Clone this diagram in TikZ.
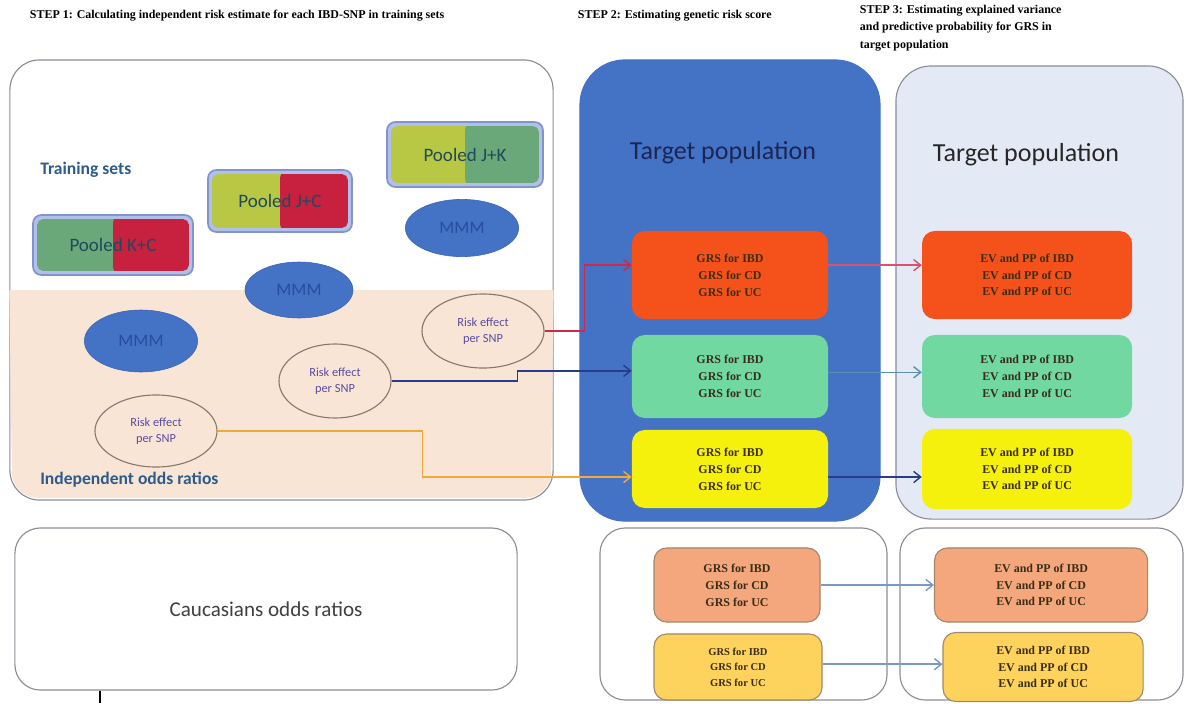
\documentclass[tikz,border=0pt]{standalone}
\usepackage{fontspec}
\setmainfont{Carlito}
\newfontfamily\titlefont{Liberation Serif}
\usetikzlibrary{shapes.geometric, positioning, arrows.meta}

\definecolor{panelgray}{HTML}{8C8C96}
\definecolor{peach}{HTML}{F8E5D6}
\definecolor{popblue}{HTML}{4472C4}
\definecolor{popgray}{HTML}{E4EAF5}
\definecolor{grsorange}{HTML}{F4521A}
\definecolor{grsgreen}{HTML}{70D8A0}
\definecolor{grsyellow}{HTML}{F5F00C}
\definecolor{grssalmon}{HTML}{F4A67C}
\definecolor{grsgold}{HTML}{FDD35E}
\definecolor{crimson}{HTML}{C8203F}
\definecolor{olive}{HTML}{B8C844}
\definecolor{sage}{HTML}{6AA87A}
\definecolor{poolfill}{HTML}{B0C0E8}
\definecolor{poolline}{HTML}{8294CC}
\definecolor{mmmline}{HTML}{3A64B4}
\definecolor{mmmtext}{HTML}{2A4C9E}
\definecolor{ringline}{HTML}{8A7868}
\definecolor{risktext}{HTML}{5A4CA0}
\definecolor{tealtext}{HTML}{1E4A5C}
\definecolor{headblue}{HTML}{2E5C8A}
\definecolor{popnavy}{HTML}{1A2656}
\definecolor{boxtext}{HTML}{3A2E18}
\definecolor{redline}{HTML}{D0284A}
\definecolor{navyline}{HTML}{283C8C}
\definecolor{amberline}{HTML}{F2A83C}
\definecolor{tealline}{HTML}{5A8FB0}
\definecolor{softline}{HTML}{7A98C8}
\definecolor{lowline}{HTML}{A08868}

\begin{document}
\begin{tikzpicture}[
    x=0.025cm, y=-0.025cm,
    >={Straight Barb[length=5pt, width=8pt]},
    steptitle/.style={font=\titlefont\bfseries\fontsize{8.5}{12.5}\selectfont, anchor=west, align=left},
    panel/.style={draw=panelgray, line width=0.8pt, fill=white},
    pooled/.style 2 args={rounded corners=6pt, fill=poolfill, draw=poolline, line width=1.2pt,
        text=tealtext, font=\fontsize{13.5}{15}\selectfont,
        path picture={
          \fill[#1, rounded corners=4pt] ([shift={(3pt,3pt)}]path picture bounding box.south west)
             rectangle ([shift={(-3pt,-3pt)}]path picture bounding box.north east);
          \begin{scope}
            \clip (path picture bounding box.south) rectangle (path picture bounding box.north east);
            \fill[#2, rounded corners=4pt] ([shift={(3pt,3pt)}]path picture bounding box.south west)
               rectangle ([shift={(-3pt,-3pt)}]path picture bounding box.north east);
          \end{scope}}},
    mmm/.style={ellipse, fill=popblue, draw=mmmline, inner sep=0pt, text=mmmtext,
        font=\fontsize{12.5}{14}\selectfont},
    risk/.style={ellipse, fill=peach, draw=ringline, line width=0.8pt, inner sep=0pt, text=risktext,
        align=center, font=\fontsize{8.8}{11.5}\selectfont, minimum width=3.05cm, minimum height=1.85cm},
    grsbox/.style={rounded corners=9pt, fill=#1, align=center, text=boxtext,
        font=\titlefont\bfseries\fontsize{8.5}{12}\selectfont},
    lowbox/.style={grsbox=#1, draw=lowline, line width=0.8pt},
    heading/.style={anchor=west, inner sep=0pt, font=\bfseries\fontsize{12.5}{14}\selectfont, text=headblue},
    poptext/.style={font=\fontsize{18.5}{21}\selectfont},
    node distance=7.425cm, on grid
]

   % Step titles
   \node[steptitle] (title1) at (25,16) {STEP 1: Calculating independent risk estimate for each IBD-SNP in training sets};
   \node[steptitle] (title2) at (573,16) {STEP 2: Estimating genetic risk score};
   \node[steptitle] (title3) at (855,28) {STEP 3: Estimating explained variance\\and predictive probability for GRS in\\target population};

   % Panels
   \node[panel, rounded corners=21pt, minimum width=13.575cm, minimum height=11cm] (train) at (281.5,280) {};
   \fill[peach, rounded corners=18pt] (train.west |- 0,290) -- ([shift={(2pt,2pt)}]train.south west)
        -- ([shift={(-2pt,2pt)}]train.south east) [sharp corners] -- (train.east |- 0,290) -- cycle;
   \node[panel, fill=popblue, draw=popblue, rounded corners=32pt, minimum width=7.5cm, minimum height=11.525cm] (target2) at (730,290.5) {};
   \node[panel, fill=popgray, rounded corners=25pt, minimum width=7.175cm, minimum height=11.325cm] (target3) at (1039.5,292.5) {};
   \node[panel, rounded corners=18pt, minimum width=12.55cm, minimum height=4.05cm, font=\fontsize{15}{17}\selectfont, text=black!75] (cauc) at (266,609) {Caucasians odds ratios};
   \node[panel, rounded corners=18pt, minimum width=7.175cm, minimum height=4.3cm] (low2) at (743.5,614) {};
   \node[panel, rounded corners=18pt, minimum width=7.075cm, minimum height=4.3cm] (low3) at (1041.5,614) {};

   \coordinate (tick) at (100,703);
   \draw[black, line width=1pt] (cauc.south -| tick) -- (tick);

   % Panel texts
   \node[heading] (trainsets) at (40,170) {Training sets};
   \node[heading] (indep) at (40,480) {Independent odds ratios};
   \node[poptext, text=popnavy] (pop2) at (723,153) {Target population};
   \node[poptext, text=black!85] (pop3) at (1026,155) {Target population};

   % Training sets
   \node[pooled={sage}{crimson}, minimum width=4cm, minimum height=1.5cm] (pkc) at (113,245) {Pooled K+C};
   \node[pooled={olive}{crimson}, minimum width=3.6cm, minimum height=1.55cm] (pjc) at (280,201) {Pooled J+C};
   \node[pooled={olive}{sage}, minimum width=3.9cm, minimum height=1.625cm] (pjk) at (465,154.5) {Pooled J+K};

   \node[mmm, minimum width=2.83cm, minimum height=1.43cm] (mmm1) at (462,228) {MMM};
   \node[mmm, minimum width=2.7cm, minimum height=1.4cm] (mmm2) at (299,290) {MMM};
   \node[mmm, minimum width=2.83cm, minimum height=1.55cm] (mmm3) at (141,341) {MMM};

   \node[risk] (re1) at (483,331) {Risk effect\\per SNP};
   \node[risk, minimum width=2.8cm] (re2) at (335,381) {Risk effect\\per SNP};
   \node[risk, minimum height=1.8cm] (re3) at (156,431) {Risk effect\\per SNP};

   % Genetic risk scores
   \node[grsbox=grsorange, minimum width=4.9cm, minimum height=2.2cm] (grs1) at (730,275) {GRS for IBD\\GRS for CD\\GRS for UC};
   \node[grsbox=grsgreen, minimum width=4.9cm, minimum height=2.075cm] (grs2) at (730,376.5) {GRS for IBD\\GRS for CD\\GRS for UC};
   \node[grsbox=grsyellow, minimum width=4.9cm, minimum height=1.95cm] (grs3) at (730,469) {GRS for IBD\\GRS for CD\\GRS for UC};

   \node[grsbox=grsorange, minimum width=5.25cm, minimum height=2.2cm] (ev1) [right=of grs1] {EV and PP of IBD\\EV and PP of CD\\EV and PP of UC};
   \node[grsbox=grsgreen, minimum width=5.25cm, minimum height=2.075cm] (ev2) [right=of grs2] {EV and PP of IBD\\EV and PP of CD\\EV and PP of UC};
   \node[grsbox=grsyellow, minimum width=5.25cm, minimum height=2cm] (ev3) [right=of grs3] {EV and PP of IBD\\EV and PP of CD\\EV and PP of UC};

   \node[lowbox=grssalmon, minimum width=4.15cm, minimum height=1.85cm] (lgrs1) at (737,585) {GRS for IBD\\GRS for CD\\GRS for UC};
   \node[lowbox=grsgold, minimum width=4.2cm, minimum height=1.65cm, font=\titlefont\bfseries\fontsize{7.5}{11}\selectfont] (lgrs2) at (738,667) {GRS for IBD\\GRS for CD\\GRS for UC};
   \node[lowbox=grssalmon, minimum width=5.325cm, minimum height=1.85cm] (lev1) [right=7.6cm of lgrs1] {EV and PP of IBD\\EV and PP of CD\\EV and PP of UC};
   \node[lowbox=grsgold, minimum width=5cm, minimum height=1.725cm] (lev2) [right=7.625cm of lgrs2] {EV and PP of IBD\\EV and PP of CD\\EV and PP of UC};

   % Connectors
   \draw[->, redline, line width=1pt] (re1.east) -- ++(40,0) |- ([yshift=7pt]grs1.west);
   \draw[->, navyline, line width=1pt] (re2.east) -- ++(126,0) |- ([yshift=4pt]grs2.west);
   \draw[->, amberline, line width=1pt] (re3.east) -- ++(205,0) |- ([yshift=-5.7pt]grs3.west);

   \draw[->, redline!80, line width=1pt] ([yshift=7pt]grs1.east) -- ([yshift=7pt]grs1.east -| ev1.west);
   \draw[->, tealline, line width=1pt] ([yshift=3pt]grs2.east) -- ([yshift=3pt]grs2.east -| ev2.west);
   \draw[->, navyline, line width=1pt] ([yshift=-5.7pt]grs3.east) -- ([yshift=-5.7pt]grs3.east -| ev3.west);
   \draw[->, softline, line width=1pt] (lgrs1.east) -- (lev1.west);
   \draw[->, softline, line width=1pt] ([yshift=2pt]lgrs2.east) -- ([yshift=2pt]lgrs2.east -| lev2.west);

   \useasboundingbox (0,0) rectangle (1186,704);
\end{tikzpicture}
\end{document}
